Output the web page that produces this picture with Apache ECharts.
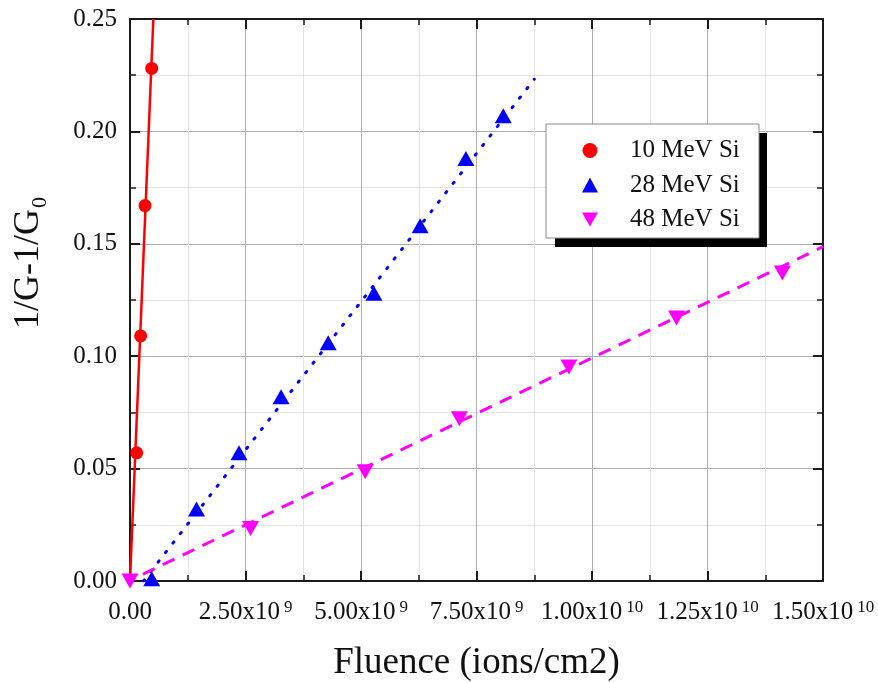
<!DOCTYPE html>
<html>
<head>
<meta charset="utf-8">
<title>Fluence dependence of 1/G-1/G0</title>
<script src="https://cdn.jsdelivr.net/npm/echarts@6/dist/echarts.min.js"></script>
<style>
  html, body { margin: 0; padding: 0; background: #ffffff; }
  #chart { width: 878px; height: 683px; }
</style>
</head>
<body>
<div id="chart"></div>
<script>
// Measured points (fluence in ions/cm2, response 1/G-1/G0)
const seriesNames = ['10 MeV Si', '28 MeV Si', '48 MeV Si'];

const fluence10 = [0.145e9, 0.23e9, 0.325e9, 0.47e9];
const value10   = [0.057, 0.109, 0.167, 0.228];

const fluence28 = [0.47e9, 1.44e9, 2.36e9, 3.27e9, 4.29e9, 5.28e9, 6.28e9, 7.27e9, 8.08e9];
const value28   = [0.001, 0.032, 0.057, 0.082, 0.106, 0.128, 0.158, 0.188, 0.207];

const fluence48 = [0, 2.61e9, 5.09e9, 7.13e9, 9.50e9, 11.83e9, 14.12e9];
const value48   = [0, 0.0234, 0.0486, 0.0722, 0.0952, 0.117, 0.137];

// Linear fits (end points of each fitted line)
const fit10X = [0, 0.505e9];
const fit10Y = [0, 0.25];
const fit28X = [0.29e9, 8.75e9];
const fit28Y = [0, 0.2232];
const fit48X = [0.28e9, 15e9];
const fit48Y = [0.003, 0.1487];

// Axis ticks
const xTickValues = [0, 2.5e9, 5e9, 7.5e9, 10e9, 12.5e9, 15e9];
const yTickValues = [0, 0.05, 0.10, 0.15, 0.20, 0.25];

const colors = { c10: '#ff0000', c28: '#0000ff', c48: '#ff00ff' };
const serif = '"Liberation Serif", "Times New Roman", "DejaVu Serif", serif';
const downTriangle = 'path://M0,0L20,0L10,17.5Z';

const pairs = (xs, ys) => xs.map((x, i) => [x, ys[i]]);

function fluenceLabel(v) {
  if (v === 0) return '{m|0.00}';
  const exp = Math.floor(Math.log10(v) + 1e-9);
  const mant = (v / Math.pow(10, exp)).toFixed(2);
  return '{m|' + mant + 'x10}{s|' + exp + '}';
}

const xMin = xTickValues[0], xMax = xTickValues[xTickValues.length - 1];
const xStep = xTickValues[1] - xTickValues[0];
const yMin = yTickValues[0], yMax = yTickValues[yTickValues.length - 1];
const yStep = yTickValues[1] - yTickValues[0];

const axisLineStyle = { color: '#1a1a1a', width: 2 };
const majorTick = { show: true, inside: true, length: 10, lineStyle: { color: '#1a1a1a', width: 2 } };
const minorTick = { show: true, splitNumber: 2, length: 6, lineStyle: { color: '#1a1a1a', width: 1.5 } };

const chart = echarts.init(document.getElementById('chart'), null, { renderer: 'canvas' });

chart.setOption({
  backgroundColor: '#ffffff',
  animation: false,
  textStyle: { fontFamily: serif, color: '#000' },
  grid: { left: 130, right: 55, top: 19, bottom: 102, containLabel: false, outerBoundsMode: 'none' },
  xAxis: [
    {
      type: 'value', position: 'bottom',
      min: xMin, max: xMax, interval: xStep,
      name: 'Fluence (ions/cm2)', nameLocation: 'middle', nameGap: 64,
      nameTextStyle: { fontFamily: serif, fontSize: 37, color: '#111' },
      axisLine: { show: true, onZero: false, lineStyle: axisLineStyle },
      axisTick: majorTick,
      minorTick: minorTick,
      splitLine: { show: true, lineStyle: { color: '#adadad', width: 1 } },
      minorSplitLine: { show: true, lineStyle: { color: '#e4e4e4', width: 1 } },
      axisLabel: {
        margin: 18, showMinLabel: true, showMaxLabel: true, hideOverlap: false,
        formatter: fluenceLabel,
        rich: {
          m: { fontFamily: serif, fontSize: 25, lineHeight: 26, color: '#111', verticalAlign: 'bottom' },
          s: { fontFamily: serif, fontSize: 17, lineHeight: 17, color: '#111', verticalAlign: 'top', padding: [0, 0, 0, 4] }
        }
      }
    },
    {
      type: 'value', position: 'top',
      min: xMin, max: xMax, interval: xStep,
      axisLine: { show: true, onZero: false, lineStyle: axisLineStyle },
      axisTick: majorTick,
      minorTick: minorTick,
      axisLabel: { show: false },
      splitLine: { show: false }
    }
  ],
  yAxis: [
    {
      type: 'value', position: 'left',
      min: yMin, max: yMax, interval: yStep,
      axisLine: { show: true, onZero: false, lineStyle: axisLineStyle },
      axisTick: majorTick,
      minorTick: minorTick,
      splitLine: { show: true, lineStyle: { color: '#adadad', width: 1 } },
      minorSplitLine: { show: true, lineStyle: { color: '#e4e4e4', width: 1 } },
      axisLabel: {
        margin: 13, fontFamily: serif, fontSize: 25, color: '#111',
        showMinLabel: true, showMaxLabel: true,
        formatter: v => v.toFixed(2)
      }
    },
    {
      type: 'value', position: 'right',
      min: yMin, max: yMax, interval: yStep,
      axisLine: { show: true, onZero: false, lineStyle: axisLineStyle },
      axisTick: majorTick,
      minorTick: minorTick,
      axisLabel: { show: false },
      splitLine: { show: false }
    }
  ],
  legend: {
    data: seriesNames,
    orient: 'vertical',
    left: 582, top: 138,
    padding: 0,
    itemGap: 9.5,
    itemWidth: 16, itemHeight: 15,
    z: 100,
    selectedMode: false,
    textStyle: { fontFamily: serif, fontSize: 25, lineHeight: 24, color: '#111', padding: [0, 0, 0, 27] }
  },
  graphic: {
    elements: [
      { type: 'rect', z: 50, shape: { x: 555, y: 133, width: 212, height: 114 }, style: { fill: '#000' } },
      { type: 'rect', z: 51, shape: { x: 546, y: 124, width: 213, height: 114 }, style: { fill: '#fff', stroke: '#8a8a8a', lineWidth: 1 } },
      {
        type: 'text', z: 60, x: 29, y: 263, rotation: Math.PI / 2,
        style: {
          text: '{a|1/G-1/G}{b|0}',
          align: 'center', verticalAlign: 'middle',
          rich: {
            a: { fontFamily: serif, fontSize: 36, lineHeight: 36, verticalAlign: 'top', fill: '#111' },
            b: { fontFamily: serif, fontSize: 22, lineHeight: 22, verticalAlign: 'top', padding: [18, 0, 0, 1], fill: '#111' }
          }
        }
      }
    ]
  },
  series: [
    {
      name: 'fit10', type: 'line', data: pairs(fit10X, fit10Y),
      symbol: 'none', silent: true, z: 2,
      lineStyle: { color: colors.c10, width: 2.5 }
    },
    {
      name: 'fit28', type: 'line', data: pairs(fit28X, fit28Y),
      symbol: 'none', silent: true, z: 2,
      lineStyle: { color: colors.c28, width: 3, type: [1.5, 10.5], cap: 'round' }
    },
    {
      name: 'fit48', type: 'line', data: pairs(fit48X, fit48Y),
      symbol: 'none', silent: true, z: 2,
      lineStyle: { color: colors.c48, width: 3, type: [13, 9] }
    },
    {
      name: seriesNames[0], type: 'scatter', data: pairs(fluence10, value10),
      symbol: 'circle', symbolSize: 13, z: 3,
      itemStyle: { color: colors.c10, opacity: 1 }
    },
    {
      name: seriesNames[1], type: 'scatter', data: pairs(fluence28, value28),
      symbol: 'triangle', symbolSize: [17, 15], z: 3,
      itemStyle: { color: colors.c28, opacity: 1 }
    },
    {
      name: seriesNames[2], type: 'scatter', data: pairs(fluence48, value48),
      symbol: downTriangle, symbolSize: [17, 15], z: 4,
      itemStyle: { color: colors.c48, opacity: 1 }
    }
  ]
});
</script>
</body>
</html>
